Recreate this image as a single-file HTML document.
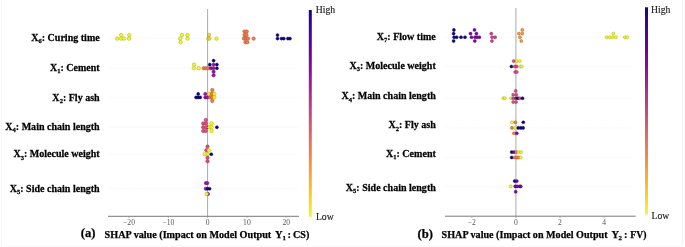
<!DOCTYPE html>
<html><head><meta charset="utf-8"><title>SHAP summary</title>
<style>
html,body{margin:0;padding:0;background:#fff;}
body{width:685px;height:247px;overflow:hidden;}
svg{display:block;}
.lab{font-family:"Liberation Serif",serif;font-weight:bold;font-size:10.6px;fill:#000;stroke:#000;stroke-width:0.25px;}
.lab .sub{font-size:6.9px;}
.sub{font-size:6.8px;}
.tt.ts{font-size:7px;}
.tt{font-family:"Liberation Serif",serif;font-weight:bold;font-size:10.5px;fill:#000;stroke:#000;stroke-width:0.25px;}
.pl{font-family:"Liberation Serif",serif;font-weight:bold;font-size:12.6px;fill:#000;stroke:#000;stroke-width:0.25px;}
.tl{font-family:"Liberation Serif",serif;font-size:7.6px;fill:#555;}
.cb{font-family:"Liberation Serif",serif;font-size:9.7px;fill:#222;stroke:#222;stroke-width:0.15px;}
.grid{stroke:#f3f3f3;stroke-width:0.7;stroke-dasharray:1.2,0.6;}
.zero{stroke:#aaa;stroke-width:1;}
.axis{stroke:#555;stroke-width:0.8;}
.tick{stroke:#888;stroke-width:0.6;}
</style></head>
<body>
<svg width="685" height="247" viewBox="0 0 685 247">
<defs>
<linearGradient id="plasma" x1="0" y1="0" x2="0" y2="1">
<stop offset="0" stop-color="#0d0887"/><stop offset="0.1" stop-color="#41049d"/><stop offset="0.2" stop-color="#6a00a8"/>
<stop offset="0.3" stop-color="#8f0da4"/><stop offset="0.4" stop-color="#b12a90"/><stop offset="0.5" stop-color="#cc4778"/>
<stop offset="0.6" stop-color="#e16462"/><stop offset="0.7" stop-color="#f2844b"/><stop offset="0.8" stop-color="#fca636"/>
<stop offset="0.9" stop-color="#fcce25"/><stop offset="1" stop-color="#f0f921"/>
</linearGradient>
</defs>
<rect width="685" height="247" fill="#fff"/>
<line x1="1.5" y1="0" x2="1.5" y2="246" stroke="#f6f6f6" stroke-width="1"/>
<line x1="682.5" y1="0" x2="682.5" y2="246" stroke="#f6f6f6" stroke-width="1"/>
<line x1="1.5" y1="246" x2="682.5" y2="246" stroke="#f9f9f9" stroke-width="1"/>
<line x1="108" y1="38.3" x2="298.5" y2="38.3" class="grid"/>
<line x1="108" y1="68.2" x2="298.5" y2="68.2" class="grid"/>
<line x1="108" y1="97.4" x2="298.5" y2="97.4" class="grid"/>
<line x1="108" y1="127.2" x2="298.5" y2="127.2" class="grid"/>
<line x1="108" y1="154.2" x2="298.5" y2="154.2" class="grid"/>
<line x1="108" y1="188.7" x2="298.5" y2="188.7" class="grid"/>
<line x1="445" y1="37.2" x2="633.5" y2="37.2" class="grid"/>
<line x1="445" y1="66.5" x2="633.5" y2="66.5" class="grid"/>
<line x1="445" y1="98.2" x2="633.5" y2="98.2" class="grid"/>
<line x1="445" y1="127.9" x2="633.5" y2="127.9" class="grid"/>
<line x1="445" y1="157.5" x2="633.5" y2="157.5" class="grid"/>
<line x1="445" y1="186.4" x2="633.5" y2="186.4" class="grid"/>
<line x1="207.6" y1="9.0" x2="207.6" y2="216.3" class="zero"/>
<line x1="515.9" y1="8.1" x2="515.9" y2="216.2" class="zero"/>
<line x1="108" y1="216.3" x2="299" y2="216.3" class="axis"/>
<line x1="445" y1="216.2" x2="635.7" y2="216.2" class="axis"/>
<line x1="129.00" y1="216.3" x2="129.00" y2="218" class="tick"/>
<text class="tl" x="129.00" y="224.8" text-anchor="middle">−20</text>
<line x1="168.30" y1="216.3" x2="168.30" y2="218" class="tick"/>
<text class="tl" x="168.30" y="224.8" text-anchor="middle">−10</text>
<line x1="207.60" y1="216.3" x2="207.60" y2="218" class="tick"/>
<text class="tl" x="207.60" y="224.8" text-anchor="middle">0</text>
<line x1="246.90" y1="216.3" x2="246.90" y2="218" class="tick"/>
<text class="tl" x="246.90" y="224.8" text-anchor="middle">10</text>
<line x1="286.20" y1="216.3" x2="286.20" y2="218" class="tick"/>
<text class="tl" x="286.20" y="224.8" text-anchor="middle">20</text>
<line x1="471.80" y1="216.3" x2="471.80" y2="218" class="tick"/>
<text class="tl" x="471.80" y="224.8" text-anchor="middle">−2</text>
<line x1="515.90" y1="216.3" x2="515.90" y2="218" class="tick"/>
<text class="tl" x="515.90" y="224.8" text-anchor="middle">0</text>
<line x1="560.00" y1="216.3" x2="560.00" y2="218" class="tick"/>
<text class="tl" x="560.00" y="224.8" text-anchor="middle">2</text>
<line x1="604.10" y1="216.3" x2="604.10" y2="218" class="tick"/>
<text class="tl" x="604.10" y="224.8" text-anchor="middle">4</text>
<circle cx="117.2" cy="38.6" r="1.80" fill="#f0f921" stroke="#9a9a10" stroke-width="0.4"/>
<circle cx="121.2" cy="35.1" r="1.80" fill="#f0f921" stroke="#9a9a10" stroke-width="0.4"/>
<circle cx="121.2" cy="38.6" r="1.80" fill="#f0f921" stroke="#9a9a10" stroke-width="0.4"/>
<circle cx="124.0" cy="38.6" r="1.80" fill="#f0f921" stroke="#9a9a10" stroke-width="0.4"/>
<circle cx="129.3" cy="35.1" r="1.80" fill="#f0f921" stroke="#9a9a10" stroke-width="0.4"/>
<circle cx="129.0" cy="38.6" r="1.80" fill="#f0f921" stroke="#9a9a10" stroke-width="0.4"/>
<circle cx="182.0" cy="35.1" r="1.80" fill="#f0f921" stroke="#9a9a10" stroke-width="0.4"/>
<circle cx="180.2" cy="38.6" r="1.80" fill="#f0f921" stroke="#9a9a10" stroke-width="0.4"/>
<circle cx="180.5" cy="42.3" r="1.80" fill="#f0f921" stroke="#9a9a10" stroke-width="0.4"/>
<circle cx="187.5" cy="35.1" r="1.80" fill="#f0f921" stroke="#9a9a10" stroke-width="0.4"/>
<circle cx="187.5" cy="38.6" r="1.80" fill="#f0f921" stroke="#9a9a10" stroke-width="0.4"/>
<circle cx="209.1" cy="34.9" r="1.70" fill="#f6d62a" stroke="#9a8010" stroke-width="0.4"/>
<circle cx="208.2" cy="38.6" r="1.70" fill="#f6d62a" stroke="#9a8010" stroke-width="0.4"/>
<circle cx="209.3" cy="38.6" r="1.70" fill="#f6d62a" stroke="#9a8010" stroke-width="0.4"/>
<circle cx="216.5" cy="38.6" r="1.80" fill="#f0f921" stroke="#9a9a10" stroke-width="0.4"/>
<circle cx="244.5" cy="31.6" r="1.78" fill="#f07a4a" stroke="#a0482a" stroke-width="0.4"/>
<circle cx="246.7" cy="31.6" r="1.78" fill="#f07a4a" stroke="#a0482a" stroke-width="0.4"/>
<circle cx="244.5" cy="35.1" r="1.78" fill="#f07a4a" stroke="#a0482a" stroke-width="0.4"/>
<circle cx="246.5" cy="35.1" r="1.78" fill="#f07a4a" stroke="#a0482a" stroke-width="0.4"/>
<circle cx="244" cy="38.6" r="1.78" fill="#f07a4a" stroke="#a0482a" stroke-width="0.4"/>
<circle cx="246" cy="38.6" r="1.78" fill="#f07a4a" stroke="#a0482a" stroke-width="0.4"/>
<circle cx="248" cy="38.6" r="1.78" fill="#f07a4a" stroke="#a0482a" stroke-width="0.4"/>
<circle cx="245.5" cy="42.3" r="1.78" fill="#f07a4a" stroke="#a0482a" stroke-width="0.4"/>
<circle cx="247.3" cy="42.3" r="1.78" fill="#f07a4a" stroke="#a0482a" stroke-width="0.4"/>
<circle cx="253.6" cy="38.6" r="1.78" fill="#f07a4a" stroke="#a0482a" stroke-width="0.4"/>
<circle cx="277.5" cy="35.1" r="1.53" fill="#0d0887" stroke="#050440" stroke-width="0.4"/>
<circle cx="277.5" cy="38.6" r="1.53" fill="#0d0887" stroke="#050440" stroke-width="0.4"/>
<circle cx="281.5" cy="38.6" r="1.53" fill="#0d0887" stroke="#050440" stroke-width="0.4"/>
<circle cx="283.8" cy="38.6" r="1.53" fill="#0d0887" stroke="#050440" stroke-width="0.4"/>
<circle cx="287.9" cy="38.6" r="1.53" fill="#0d0887" stroke="#050440" stroke-width="0.4"/>
<circle cx="290" cy="38.6" r="1.53" fill="#0d0887" stroke="#050440" stroke-width="0.4"/>
<circle cx="194.1" cy="64.6" r="1.80" fill="#f0f921" stroke="#9a9a10" stroke-width="0.4"/>
<circle cx="193.9" cy="68.2" r="1.80" fill="#f0f921" stroke="#9a9a10" stroke-width="0.4"/>
<circle cx="198.7" cy="68.2" r="1.80" fill="#f0f921" stroke="#9a9a10" stroke-width="0.4"/>
<circle cx="203.7" cy="68.2" r="1.78" fill="#f07a4a" stroke="#a0482a" stroke-width="0.4"/>
<circle cx="205.8" cy="68.2" r="1.78" fill="#f07a4a" stroke="#a0482a" stroke-width="0.4"/>
<circle cx="207.8" cy="68.2" r="1.78" fill="#f07a4a" stroke="#a0482a" stroke-width="0.4"/>
<circle cx="210.8" cy="68.2" r="1.70" fill="#9c179e" stroke="#5a0a5a" stroke-width="0.4"/>
<circle cx="213.4" cy="68.2" r="1.70" fill="#9c179e" stroke="#5a0a5a" stroke-width="0.4"/>
<circle cx="216.9" cy="68.2" r="1.53" fill="#0d0887" stroke="#050440" stroke-width="0.4"/>
<circle cx="209.8" cy="64.6" r="1.53" fill="#0d0887" stroke="#050440" stroke-width="0.4"/>
<circle cx="213.6" cy="64.6" r="1.70" fill="#9c179e" stroke="#5a0a5a" stroke-width="0.4"/>
<circle cx="216.9" cy="64.6" r="1.53" fill="#0d0887" stroke="#050440" stroke-width="0.4"/>
<circle cx="213.6" cy="60.6" r="1.53" fill="#0d0887" stroke="#050440" stroke-width="0.4"/>
<circle cx="213.6" cy="71.8" r="1.70" fill="#9c179e" stroke="#5a0a5a" stroke-width="0.4"/>
<circle cx="213.6" cy="75.3" r="1.70" fill="#9c179e" stroke="#5a0a5a" stroke-width="0.4"/>
<circle cx="198.2" cy="93.9" r="1.53" fill="#0d0887" stroke="#050440" stroke-width="0.4"/>
<circle cx="196.1" cy="97.4" r="1.53" fill="#0d0887" stroke="#050440" stroke-width="0.4"/>
<circle cx="198.2" cy="97.4" r="1.53" fill="#0d0887" stroke="#050440" stroke-width="0.4"/>
<circle cx="200.2" cy="97.4" r="1.53" fill="#0d0887" stroke="#050440" stroke-width="0.4"/>
<circle cx="205.3" cy="93.9" r="1.70" fill="#9c179e" stroke="#5a0a5a" stroke-width="0.4"/>
<circle cx="205.3" cy="97.4" r="1.70" fill="#9c179e" stroke="#5a0a5a" stroke-width="0.4"/>
<circle cx="207.3" cy="97.4" r="1.70" fill="#9c179e" stroke="#5a0a5a" stroke-width="0.4"/>
<circle cx="209.3" cy="93.9" r="1.80" fill="#f0f921" stroke="#9a9a10" stroke-width="0.4"/>
<circle cx="211.8" cy="93.9" r="1.78" fill="#f07a4a" stroke="#a0482a" stroke-width="0.4"/>
<circle cx="214.4" cy="93.9" r="1.80" fill="#f0f921" stroke="#9a9a10" stroke-width="0.4"/>
<circle cx="212.3" cy="90.1" r="1.78" fill="#f07a4a" stroke="#a0482a" stroke-width="0.4"/>
<circle cx="210.3" cy="97.4" r="1.78" fill="#f07a4a" stroke="#a0482a" stroke-width="0.4"/>
<circle cx="212.3" cy="97.4" r="1.78" fill="#f07a4a" stroke="#a0482a" stroke-width="0.4"/>
<circle cx="214.4" cy="97.4" r="1.80" fill="#f0f921" stroke="#9a9a10" stroke-width="0.4"/>
<circle cx="212.3" cy="101.0" r="1.78" fill="#f07a4a" stroke="#a0482a" stroke-width="0.4"/>
<circle cx="205.8" cy="119.9" r="1.75" fill="#d94e7c" stroke="#8a2a4a" stroke-width="0.4"/>
<circle cx="203.2" cy="123.4" r="1.75" fill="#d94e7c" stroke="#8a2a4a" stroke-width="0.4"/>
<circle cx="205.8" cy="123.4" r="1.75" fill="#d94e7c" stroke="#8a2a4a" stroke-width="0.4"/>
<circle cx="207.5" cy="127.2" r="1.53" fill="#0d0887" stroke="#050440" stroke-width="0.4"/>
<circle cx="203.2" cy="127.2" r="1.75" fill="#d94e7c" stroke="#8a2a4a" stroke-width="0.4"/>
<circle cx="205.8" cy="127.2" r="1.75" fill="#d94e7c" stroke="#8a2a4a" stroke-width="0.4"/>
<circle cx="209.3" cy="127.2" r="1.80" fill="#f0f921" stroke="#9a9a10" stroke-width="0.4"/>
<circle cx="211.5" cy="127.2" r="1.80" fill="#f0f921" stroke="#9a9a10" stroke-width="0.4"/>
<circle cx="211.5" cy="123.4" r="1.80" fill="#f0f921" stroke="#9a9a10" stroke-width="0.4"/>
<circle cx="211.5" cy="131.0" r="1.80" fill="#f0f921" stroke="#9a9a10" stroke-width="0.4"/>
<circle cx="203.2" cy="131.0" r="1.75" fill="#d94e7c" stroke="#8a2a4a" stroke-width="0.4"/>
<circle cx="205.8" cy="131.0" r="1.75" fill="#d94e7c" stroke="#8a2a4a" stroke-width="0.4"/>
<circle cx="216.9" cy="127.2" r="1.53" fill="#0d0887" stroke="#050440" stroke-width="0.4"/>
<circle cx="207.5" cy="146.6" r="1.75" fill="#d94e7c" stroke="#8a2a4a" stroke-width="0.4"/>
<circle cx="206.3" cy="150.3" r="1.75" fill="#d94e7c" stroke="#8a2a4a" stroke-width="0.4"/>
<circle cx="208.8" cy="150.3" r="1.80" fill="#f0f921" stroke="#9a9a10" stroke-width="0.4"/>
<circle cx="204.7" cy="154.2" r="1.80" fill="#f0f921" stroke="#9a9a10" stroke-width="0.4"/>
<circle cx="207.8" cy="154.2" r="1.80" fill="#f0f921" stroke="#9a9a10" stroke-width="0.4"/>
<circle cx="211.3" cy="154.2" r="1.53" fill="#0d0887" stroke="#050440" stroke-width="0.4"/>
<circle cx="207.5" cy="157.7" r="1.75" fill="#d94e7c" stroke="#8a2a4a" stroke-width="0.4"/>
<circle cx="207.5" cy="161.2" r="1.75" fill="#d94e7c" stroke="#8a2a4a" stroke-width="0.4"/>
<circle cx="205.9" cy="183.1" r="1.70" fill="#9c179e" stroke="#5a0a5a" stroke-width="0.4"/>
<circle cx="207.3" cy="183.1" r="1.70" fill="#9c179e" stroke="#5a0a5a" stroke-width="0.4"/>
<circle cx="205.8" cy="188.7" r="1.70" fill="#9c179e" stroke="#5a0a5a" stroke-width="0.4"/>
<circle cx="207.6" cy="188.7" r="1.53" fill="#0d0887" stroke="#050440" stroke-width="0.4"/>
<circle cx="209.6" cy="188.7" r="1.53" fill="#0d0887" stroke="#050440" stroke-width="0.4"/>
<circle cx="207.9" cy="194.0" r="1.70" fill="#9c179e" stroke="#5a0a5a" stroke-width="0.4"/>
<circle cx="206.6" cy="194.0" r="1.80" fill="#f0f921" stroke="#9a9a10" stroke-width="0.4"/>
<circle cx="453.9" cy="29.9" r="1.55" fill="#0d0887" stroke="#050440" stroke-width="0.4"/>
<circle cx="453.6" cy="33.6" r="1.55" fill="#0d0887" stroke="#050440" stroke-width="0.4"/>
<circle cx="454.1" cy="37.2" r="1.55" fill="#0d0887" stroke="#050440" stroke-width="0.4"/>
<circle cx="456.6" cy="37.2" r="1.55" fill="#0d0887" stroke="#050440" stroke-width="0.4"/>
<circle cx="461" cy="37.2" r="1.55" fill="#0d0887" stroke="#050440" stroke-width="0.4"/>
<circle cx="465" cy="37.2" r="1.55" fill="#0d0887" stroke="#050440" stroke-width="0.4"/>
<circle cx="453.6" cy="41.0" r="1.55" fill="#0d0887" stroke="#050440" stroke-width="0.4"/>
<circle cx="474.5" cy="29.9" r="1.55" fill="#7a06a8" stroke="#40045a" stroke-width="0.4"/>
<circle cx="470.5" cy="33.6" r="1.55" fill="#7a06a8" stroke="#40045a" stroke-width="0.4"/>
<circle cx="476.4" cy="33.6" r="1.55" fill="#7a06a8" stroke="#40045a" stroke-width="0.4"/>
<circle cx="471.5" cy="37.2" r="1.55" fill="#7a06a8" stroke="#40045a" stroke-width="0.4"/>
<circle cx="475.1" cy="37.2" r="1.55" fill="#7a06a8" stroke="#40045a" stroke-width="0.4"/>
<circle cx="477.2" cy="37.2" r="1.55" fill="#7a06a8" stroke="#40045a" stroke-width="0.4"/>
<circle cx="479.4" cy="37.2" r="1.55" fill="#7a06a8" stroke="#40045a" stroke-width="0.4"/>
<circle cx="474.8" cy="41.0" r="1.55" fill="#7a06a8" stroke="#40045a" stroke-width="0.4"/>
<circle cx="491.3" cy="33.6" r="1.55" fill="#cf4088" stroke="#802050" stroke-width="0.4"/>
<circle cx="492.1" cy="37.2" r="1.55" fill="#cf4088" stroke="#802050" stroke-width="0.4"/>
<circle cx="495.1" cy="37.2" r="1.55" fill="#cf4088" stroke="#802050" stroke-width="0.4"/>
<circle cx="491.9" cy="41.0" r="1.55" fill="#cf4088" stroke="#802050" stroke-width="0.4"/>
<circle cx="522.3" cy="29.9" r="1.55" fill="#f6983f" stroke="#a05a20" stroke-width="0.4"/>
<circle cx="518.9" cy="33.6" r="1.55" fill="#f6983f" stroke="#a05a20" stroke-width="0.4"/>
<circle cx="522.3" cy="33.6" r="1.55" fill="#f6983f" stroke="#a05a20" stroke-width="0.4"/>
<circle cx="519.9" cy="37.2" r="1.55" fill="#f6983f" stroke="#a05a20" stroke-width="0.4"/>
<circle cx="521.3" cy="41.0" r="1.55" fill="#f6983f" stroke="#a05a20" stroke-width="0.4"/>
<circle cx="613.4" cy="33.6" r="1.55" fill="#f0f921" stroke="#9a9a10" stroke-width="0.4"/>
<circle cx="606.6" cy="37.2" r="1.55" fill="#f0f921" stroke="#9a9a10" stroke-width="0.4"/>
<circle cx="609.7" cy="37.2" r="1.55" fill="#f0f921" stroke="#9a9a10" stroke-width="0.4"/>
<circle cx="612.7" cy="37.2" r="1.55" fill="#f0f921" stroke="#9a9a10" stroke-width="0.4"/>
<circle cx="615.8" cy="37.2" r="1.55" fill="#f0f921" stroke="#9a9a10" stroke-width="0.4"/>
<circle cx="624.9" cy="37.2" r="1.55" fill="#f0f921" stroke="#9a9a10" stroke-width="0.4"/>
<circle cx="627.2" cy="37.2" r="1.55" fill="#f0f921" stroke="#9a9a10" stroke-width="0.4"/>
<circle cx="513.7" cy="61.1" r="1.55" fill="#d94e7c" stroke="#8a2a4a" stroke-width="0.4"/>
<circle cx="516.8" cy="61.1" r="1.55" fill="#f0f921" stroke="#9a9a10" stroke-width="0.4"/>
<circle cx="519.8" cy="61.1" r="1.55" fill="#f0f921" stroke="#9a9a10" stroke-width="0.4"/>
<circle cx="511.4" cy="66.5" r="1.55" fill="#0d0887" stroke="#050440" stroke-width="0.4"/>
<circle cx="514.7" cy="66.5" r="1.55" fill="#d94e7c" stroke="#8a2a4a" stroke-width="0.4"/>
<circle cx="516.8" cy="66.5" r="1.55" fill="#d94e7c" stroke="#8a2a4a" stroke-width="0.4"/>
<circle cx="520.3" cy="66.5" r="1.55" fill="#f0f921" stroke="#9a9a10" stroke-width="0.4"/>
<circle cx="521.8" cy="66.5" r="1.55" fill="#f0f921" stroke="#9a9a10" stroke-width="0.4"/>
<circle cx="515.2" cy="72.0" r="1.55" fill="#d94e7c" stroke="#8a2a4a" stroke-width="0.4"/>
<circle cx="516.8" cy="72.0" r="1.55" fill="#d94e7c" stroke="#8a2a4a" stroke-width="0.4"/>
<circle cx="515.7" cy="90.9" r="1.55" fill="#d94e7c" stroke="#8a2a4a" stroke-width="0.4"/>
<circle cx="513.2" cy="94.7" r="1.55" fill="#d94e7c" stroke="#8a2a4a" stroke-width="0.4"/>
<circle cx="516.3" cy="94.7" r="1.55" fill="#d94e7c" stroke="#8a2a4a" stroke-width="0.4"/>
<circle cx="503.5" cy="98.2" r="1.55" fill="#f0f921" stroke="#9a9a10" stroke-width="0.4"/>
<circle cx="504.8" cy="98.2" r="1.55" fill="#f0f921" stroke="#9a9a10" stroke-width="0.4"/>
<circle cx="511" cy="98.2" r="1.55" fill="#f0f921" stroke="#9a9a10" stroke-width="0.4"/>
<circle cx="513.2" cy="98.2" r="1.55" fill="#d94e7c" stroke="#8a2a4a" stroke-width="0.4"/>
<circle cx="515.7" cy="98.2" r="1.55" fill="#9c179e" stroke="#5a0a5a" stroke-width="0.4"/>
<circle cx="517.8" cy="98.2" r="1.55" fill="#0d0887" stroke="#050440" stroke-width="0.4"/>
<circle cx="519.8" cy="98.2" r="1.55" fill="#d94e7c" stroke="#8a2a4a" stroke-width="0.4"/>
<circle cx="522.5" cy="98.2" r="1.55" fill="#0d0887" stroke="#050440" stroke-width="0.4"/>
<circle cx="513.2" cy="102.0" r="1.55" fill="#d94e7c" stroke="#8a2a4a" stroke-width="0.4"/>
<circle cx="516" cy="102.0" r="1.55" fill="#d94e7c" stroke="#8a2a4a" stroke-width="0.4"/>
<circle cx="512" cy="122.3" r="1.55" fill="#f0f921" stroke="#9a9a10" stroke-width="0.4"/>
<circle cx="515.4" cy="122.3" r="1.55" fill="#f07a4a" stroke="#a0482a" stroke-width="0.4"/>
<circle cx="523.3" cy="122.3" r="1.55" fill="#0d0887" stroke="#050440" stroke-width="0.4"/>
<circle cx="512" cy="127.9" r="1.55" fill="#f07a4a" stroke="#a0482a" stroke-width="0.4"/>
<circle cx="515.2" cy="127.9" r="1.55" fill="#f0f921" stroke="#9a9a10" stroke-width="0.4"/>
<circle cx="518.3" cy="127.9" r="1.55" fill="#0d0887" stroke="#050440" stroke-width="0.4"/>
<circle cx="520.8" cy="127.9" r="1.55" fill="#0d0887" stroke="#050440" stroke-width="0.4"/>
<circle cx="523.1" cy="127.9" r="1.55" fill="#0d0887" stroke="#050440" stroke-width="0.4"/>
<circle cx="514" cy="133.3" r="1.55" fill="#f07a4a" stroke="#a0482a" stroke-width="0.4"/>
<circle cx="516.8" cy="133.3" r="1.55" fill="#7a06a8" stroke="#40045a" stroke-width="0.4"/>
<circle cx="511.7" cy="152.1" r="1.55" fill="#0d0887" stroke="#050440" stroke-width="0.4"/>
<circle cx="514" cy="152.1" r="1.55" fill="#7a06a8" stroke="#40045a" stroke-width="0.4"/>
<circle cx="516.3" cy="152.1" r="1.55" fill="#f07a4a" stroke="#a0482a" stroke-width="0.4"/>
<circle cx="518.5" cy="152.1" r="1.55" fill="#f0f921" stroke="#9a9a10" stroke-width="0.4"/>
<circle cx="521.1" cy="152.1" r="1.55" fill="#f0f921" stroke="#9a9a10" stroke-width="0.4"/>
<circle cx="511.7" cy="157.5" r="1.55" fill="#0d0887" stroke="#050440" stroke-width="0.4"/>
<circle cx="514.7" cy="157.5" r="1.55" fill="#f07a4a" stroke="#a0482a" stroke-width="0.4"/>
<circle cx="516.8" cy="157.5" r="1.55" fill="#f07a4a" stroke="#a0482a" stroke-width="0.4"/>
<circle cx="518.8" cy="157.5" r="1.55" fill="#f07a4a" stroke="#a0482a" stroke-width="0.4"/>
<circle cx="520.8" cy="157.5" r="1.55" fill="#f0f921" stroke="#9a9a10" stroke-width="0.4"/>
<circle cx="514.7" cy="181.1" r="1.55" fill="#0d0887" stroke="#050440" stroke-width="0.4"/>
<circle cx="516.8" cy="181.1" r="1.55" fill="#7a06a8" stroke="#40045a" stroke-width="0.4"/>
<circle cx="510.7" cy="186.4" r="1.55" fill="#f0f921" stroke="#9a9a10" stroke-width="0.4"/>
<circle cx="515.2" cy="186.4" r="1.55" fill="#7a06a8" stroke="#40045a" stroke-width="0.4"/>
<circle cx="517.3" cy="186.4" r="1.55" fill="#7a06a8" stroke="#40045a" stroke-width="0.4"/>
<circle cx="519.8" cy="186.4" r="1.55" fill="#7a06a8" stroke="#40045a" stroke-width="0.4"/>
<circle cx="520.8" cy="186.4" r="1.55" fill="#7a06a8" stroke="#40045a" stroke-width="0.4"/>
<circle cx="515.7" cy="191.7" r="1.55" fill="#7a06a8" stroke="#40045a" stroke-width="0.4"/>
<rect x="308.8" y="10" width="3" height="206.8" fill="url(#plasma)"/>
<rect x="645" y="7.3" width="3" height="207.1" fill="url(#plasma)"/>
<text class="cb" x="315.7" y="13.3">High</text>
<text class="cb" x="315.9" y="219.8">Low</text>
<text class="cb" x="651" y="12.6">High</text>
<text class="cb" x="651.6" y="218.8">Low</text>
<text class="lab" transform="translate(99.7,40.5) scale(0.948,1)" text-anchor="end">X<tspan class="sub" dy="2.5">6</tspan><tspan dy="-2.5">: Curing time</tspan></text>
<text class="lab" transform="translate(99.7,70.6) scale(0.948,1)" text-anchor="end">X<tspan class="sub" dy="2.5">1</tspan><tspan dy="-2.5">: Cement</tspan></text>
<text class="lab" transform="translate(99.7,100.5) scale(0.948,1)" text-anchor="end">X<tspan class="sub" dy="2.5">2</tspan><tspan dy="-2.5">: Fly ash</tspan></text>
<text class="lab" transform="translate(99.7,129.6) scale(0.948,1)" text-anchor="end">X<tspan class="sub" dy="2.5">4</tspan><tspan dy="-2.5">: Main chain length</tspan></text>
<text class="lab" transform="translate(99.7,157.0) scale(0.948,1)" text-anchor="end">X<tspan class="sub" dy="2.5">3</tspan><tspan dy="-2.5">: Molecule weight</tspan></text>
<text class="lab" transform="translate(99.7,191.9) scale(0.948,1)" text-anchor="end">X<tspan class="sub" dy="2.5">5</tspan><tspan dy="-2.5">: Side chain length</tspan></text>
<text class="lab" transform="translate(435.8,39.9) scale(0.948,1)" text-anchor="end">X<tspan class="sub" dy="2.5">7</tspan><tspan dy="-2.5">: Flow time</tspan></text>
<text class="lab" transform="translate(435.8,68.8) scale(0.948,1)" text-anchor="end">X<tspan class="sub" dy="2.5">3</tspan><tspan dy="-2.5">: Molecule weight</tspan></text>
<text class="lab" transform="translate(435.8,99.4) scale(0.948,1)" text-anchor="end">X<tspan class="sub" dy="2.5">4</tspan><tspan dy="-2.5">: Main chain length</tspan></text>
<text class="lab" transform="translate(435.8,128.0) scale(0.948,1)" text-anchor="end">X<tspan class="sub" dy="2.5">2</tspan><tspan dy="-2.5">: Fly ash</tspan></text>
<text class="lab" transform="translate(435.8,156.5) scale(0.948,1)" text-anchor="end">X<tspan class="sub" dy="2.5">1</tspan><tspan dy="-2.5">: Cement</tspan></text>
<text class="lab" transform="translate(435.8,190.6) scale(0.948,1)" text-anchor="end">X<tspan class="sub" dy="2.5">5</tspan><tspan dy="-2.5">: Side chain length</tspan></text>
<text class="pl" x="80.7" y="236.8">(a)</text>
<text class="tt" x="104.6" y="237.5" textLength="166.6" lengthAdjust="spacingAndGlyphs">SHAP value (Impact on Model Output</text>
<text class="tt" x="275.0" y="237.5">Y</text><text class="tt ts" x="282.5" y="240.2">1</text><text class="tt" x="287.6" y="237.5">:</text>
<text class="tt" x="293.0" y="237.5" textLength="16.3" lengthAdjust="spacingAndGlyphs">CS)</text>
<text class="pl" x="417.6" y="238.0">(b)</text>
<text class="tt" x="441.6" y="237.5" textLength="166.0" lengthAdjust="spacingAndGlyphs">SHAP value (Impact on Model Output</text>
<text class="tt" x="611.4" y="237.5">Y</text><text class="tt ts" x="618.5" y="240.2">2</text><text class="tt" x="623.9" y="237.5">:</text>
<text class="tt" x="630.3" y="237.5" textLength="16.2" lengthAdjust="spacingAndGlyphs">FV)</text>
</svg>
</body></html>
